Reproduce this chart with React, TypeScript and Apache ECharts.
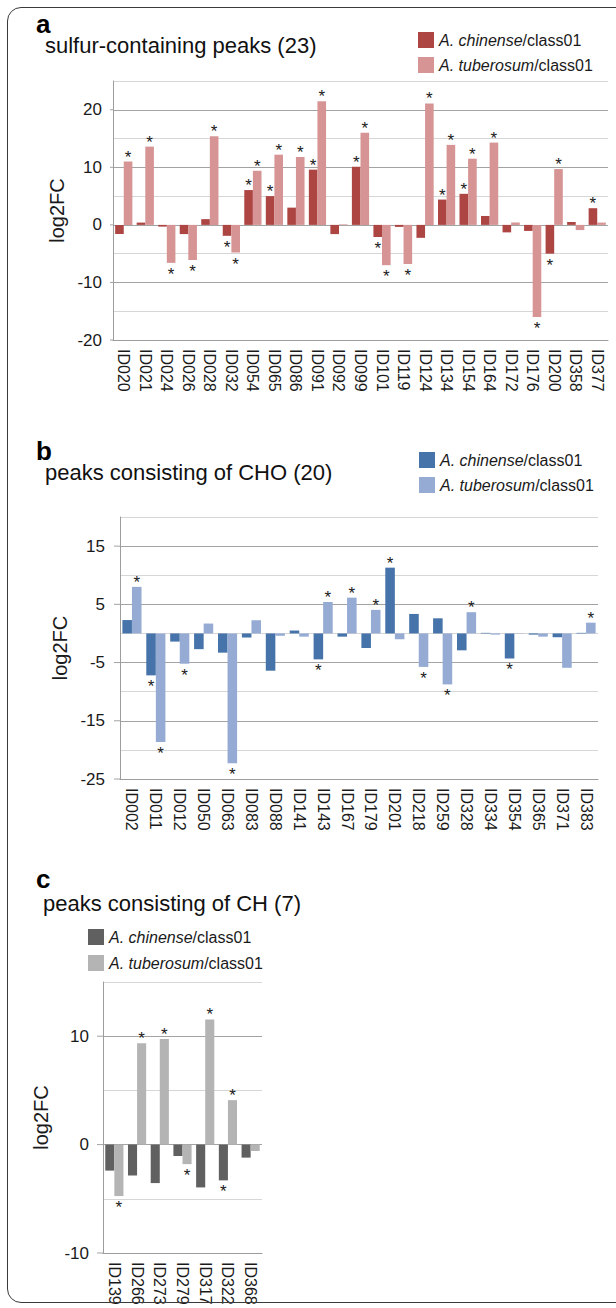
import React, { useEffect, useRef } from 'react';
import * as echarts from 'echarts';

// ---------- data ----------
const seriesNames = ['A. chinense/class01', 'A. tuberosum/class01'];

const aCategories = ['ID020', 'ID021', 'ID024', 'ID026', 'ID028', 'ID032', 'ID054', 'ID065', 'ID086', 'ID091', 'ID092', 'ID099', 'ID101', 'ID119', 'ID124', 'ID134', 'ID154', 'ID164', 'ID172', 'ID176', 'ID200', 'ID358', 'ID377'];
const aChinense = [-1.6, 0.4, -0.3, -1.6, 1.0, -1.9, 6.05, 5.0, 3.0, 9.6, -1.6, 10.1, -2.1, -0.35, -2.25, 4.4, 5.4, 1.55, -1.3, -1.05, -5.0, 0.5, 2.9];
const aTuberosum = [11.0, 13.6, -6.6, -6.1, 15.4, -4.8, 9.4, 12.2, 11.8, 21.5, 0.1, 16.0, -7.0, -6.8, 21.1, 13.9, 11.5, 14.3, 0.4, -16.0, 9.7, -0.9, 0.4];
const aChinenseSig = [0, 0, 0, 0, 0, 1, 1, 1, 0, 1, 0, 1, 1, 0, 0, 1, 1, 0, 0, 0, 1, 0, 1];
const aTuberosumSig = [1, 1, 1, 1, 1, 1, 1, 1, 1, 1, 0, 1, 1, 1, 1, 1, 1, 1, 0, 1, 1, 0, 0];
const aTickLabels = [20, 10, 0, -10, -20];

const bCategories = ['ID002', 'ID011', 'ID012', 'ID050', 'ID063', 'ID083', 'ID088', 'ID141', 'ID143', 'ID167', 'ID179', 'ID201', 'ID218', 'ID259', 'ID328', 'ID334', 'ID354', 'ID365', 'ID371', 'ID383'];
const bChinense = [2.3, -7.2, -1.4, -2.7, -3.3, -0.7, -6.4, 0.5, -4.45, -0.55, -2.5, 11.3, 3.35, 2.6, -2.9, 0.1, -4.3, -0.2, -0.65, 0.1];
const bTuberosum = [8.0, -18.65, -5.2, 1.7, -22.3, 2.25, -0.4, -0.55, 5.4, 6.15, 4.05, -1.0, -5.75, -8.75, 3.65, -0.2, 0.05, -0.55, -5.9, 1.85];
const bChinenseSig = [0, 1, 0, 0, 0, 0, 0, 0, 1, 0, 0, 1, 0, 0, 0, 0, 1, 0, 0, 0];
const bTuberosumSig = [1, 1, 1, 0, 1, 0, 0, 0, 1, 1, 1, 0, 1, 1, 1, 0, 0, 0, 0, 1];
const bTickLabels = [15, 5, -5, -15, -25];

const cCategories = ['ID139', 'ID266', 'ID273', 'ID279', 'ID317', 'ID322', 'ID368'];
const cChinense = [-2.4, -2.85, -3.55, -1.05, -3.95, -3.3, -1.2];
const cTuberosum = [-4.75, 9.35, 9.75, -1.8, 11.55, 4.1, -0.6];
const cChinenseSig = [0, 0, 0, 0, 0, 1, 0];
const cTuberosumSig = [1, 1, 1, 1, 1, 1, 0];
const cTickLabels = [10, 0, -10];

// ---------- styling ----------
const FONT = '"Liberation Sans", Arial, Helvetica, sans-serif';
const MAJOR = '#a3a3a3';
const MINOR = '#d6d6d6';
const AXIS = '#9d9d9d';
const TEXT = '#1a1a1a';

type Panel = {
  letter: string;
  title: string;
  cats: string[];
  s1: number[];
  s2: number[];
  sig1: number[];
  sig2: number[];
  c1: string;
  c2: string;
  min: number;
  max: number;
  ticks: number[];
  divTop: number;
  divHeight: number;
  grid: { left: number; top: number; width: number; height: number };
  legend: { left: number; top: number; gap: number };
  letterX: number;
  letterBase: number;
  titleX: number;
  titleBase: number;
  nameGap: number;
  labelMargin: number;
  tickLen: number;
};

const panels: Panel[] = [
  {
    letter: 'a', title: 'sulfur-containing peaks (23)',
    cats: aCategories, s1: aChinense, s2: aTuberosum, sig1: aChinenseSig, sig2: aTuberosumSig,
    c1: '#ad4543', c2: '#d69494',
    min: -20, max: 25, ticks: aTickLabels,
    divTop: 0, divHeight: 430,
    grid: { left: 113, top: 81, width: 495, height: 259 },
    legend: { left: 418, top: 32, gap: 9 },
    letterX: 36, letterBase: 33, titleX: 45, titleBase: 53,
    nameGap: 42, labelMargin: 11, tickLen: 3,
  },
  {
    letter: 'b', title: 'peaks consisting of CHO (20)',
    cats: bCategories, s1: bChinense, s2: bTuberosum, sig1: bChinenseSig, sig2: bTuberosumSig,
    c1: '#4673a9', c2: '#95abd3',
    min: -25, max: 20, ticks: bTickLabels,
    divTop: 430, divHeight: 430,
    grid: { left: 120, top: 87, width: 478, height: 262 },
    legend: { left: 419, top: 22, gap: 9 },
    letterX: 36, letterBase: 30, titleX: 45, titleBase: 50,
    nameGap: 48, labelMargin: 15, tickLen: 6,
  },
  {
    letter: 'c', title: 'peaks consisting of CH (7)',
    cats: cCategories, s1: cChinense, s2: cTuberosum, sig1: cChinenseSig, sig2: cTuberosumSig,
    c1: '#606060', c2: '#b4b4b4',
    min: -10, max: 15, ticks: cTickLabels,
    divTop: 860, divHeight: 448,
    grid: { left: 103, top: 122, width: 159, height: 271 },
    legend: { left: 88, top: 69, gap: 10 },
    letterX: 36, letterBase: 28, titleX: 43, titleBase: 51,
    nameGap: 52, labelMargin: 14, tickLen: 6,
  },
];

function headerGraphics(p: Panel) {
  const lf = 26;
  const tf = 22;
  return [
    {
      type: 'text', silent: true,
      style: {
        x: p.letterX, y: p.letterBase - 0.3465 * lf, text: p.letter,
        font: `bold ${lf}px ${FONT}`, fill: '#000', verticalAlign: 'middle',
      },
    },
    {
      type: 'text', silent: true,
      style: {
        x: p.titleX, y: p.titleBase - 0.3465 * tf, text: p.title,
        font: `${tf}px ${FONT}`, fill: '#111', verticalAlign: 'middle',
      },
    },
  ];
}

function buildOption(p: Panel) {
  const mk = (vals: number[], sig: number[]) =>
    vals.map((v, i) => ({
      value: v,
      label: sig[i]
        ? { show: true, position: v >= 0 ? 'top' : 'bottom', distance: v >= 0 ? -4 : 3 }
        : { show: false },
    }));
  const starLabel = { formatter: '*', fontSize: 17, lineHeight: 17, color: TEXT, fontFamily: FONT };
  return {
    animation: false,
    textStyle: { fontFamily: FONT },
    legend: {
      left: p.legend.left, top: p.legend.top, orient: 'vertical',
      itemWidth: 16, itemHeight: 16, itemGap: p.legend.gap, padding: 0,
      selectedMode: false, icon: 'rect', data: seriesNames,
      formatter: (name: string) => {
        const k = name.indexOf('/');
        return `{i|${name.slice(0, k)}}{n|${name.slice(k)}}`;
      },
      textStyle: {
        rich: {
          i: { fontStyle: 'italic', fontSize: 16, lineHeight: 16, color: TEXT, fontFamily: FONT },
          n: { fontSize: 16, lineHeight: 16, color: TEXT, fontFamily: FONT },
        },
      },
    },
    grid: { ...p.grid, containLabel: false, outerBoundsMode: 'none' },
    xAxis: {
      type: 'category', data: p.cats,
      axisLine: { show: true, onZero: false, lineStyle: { color: AXIS, width: 1 } },
      axisTick: { show: false },
      splitLine: { show: false },
      axisLabel: { rotate: -90, margin: 9, interval: 0, fontSize: 16, color: TEXT, fontFamily: FONT },
    },
    yAxis: {
      type: 'value', min: p.min, max: p.max, interval: 5,
      name: 'log2FC', nameLocation: 'middle', nameGap: p.nameGap, nameRotate: 90,
      nameTextStyle: { fontSize: 20, color: TEXT, fontFamily: FONT },
      axisLine: { show: true, lineStyle: { color: AXIS, width: 1 } },
      axisTick: { show: false },
      axisLabel: {
        margin: p.labelMargin, fontSize: 17, color: TEXT, fontFamily: FONT,
        formatter: (v: number) => (p.ticks.indexOf(v) >= 0 ? String(v) : ''),
      },
      splitLine: { show: true, lineStyle: { color: [MAJOR, MINOR], width: 1 } },
    },
    series: [
      {
        type: 'bar', name: seriesNames[0], data: mk(p.s1, p.sig1),
        itemStyle: { color: p.c1 }, barGap: '0%', barCategoryGap: '20%', label: starLabel,
      },
      {
        type: 'bar', name: seriesNames[1], data: mk(p.s2, p.sig2),
        itemStyle: { color: p.c2 }, barGap: '0%', barCategoryGap: '20%', label: starLabel,
      },
    ],
    graphic: headerGraphics(p),
  };
}

function PanelChart({ p }: { p: Panel }) {
  const ref = useRef<HTMLDivElement>(null);
  useEffect(() => {
    if (!ref.current) return;
    const chart = echarts.init(ref.current, null, { renderer: 'svg' });
    chart.setOption(buildOption(p) as any);
    const x0 = p.grid.left;
    const tickEls = p.ticks.map((v) => {
      const y = chart.convertToPixel({ yAxisIndex: 0 } as any, v) as unknown as number;
      return {
        type: 'line', silent: true,
        shape: { x1: x0 - p.tickLen, y1: y, x2: x0, y2: y },
        style: { stroke: MAJOR, lineWidth: 1 },
      };
    });
    chart.setOption({ graphic: [...headerGraphics(p), ...tickEls] } as any);
    return () => chart.dispose();
  }, [p]);
  return (
    <div
      ref={ref}
      style={{ position: 'absolute', left: 0, top: p.divTop, width: 616, height: p.divHeight }}
    />
  );
}

export default function App() {
  useEffect(() => {
    document.body.style.margin = '0';
  }, []);
  return (
    <div style={{ position: 'relative', width: 616, height: 1308, overflow: 'hidden', background: '#fff' }}>
      {panels.map((p) => (
        <PanelChart key={p.letter} p={p} />
      ))}
      <div
        style={{
          position: 'absolute', left: 7, top: 7, width: 680, height: 1296,
          border: '1.5px solid #3a3a3a', borderRadius: 14, boxSizing: 'border-box',
          pointerEvents: 'none',
        }}
      />
    </div>
  );
}
